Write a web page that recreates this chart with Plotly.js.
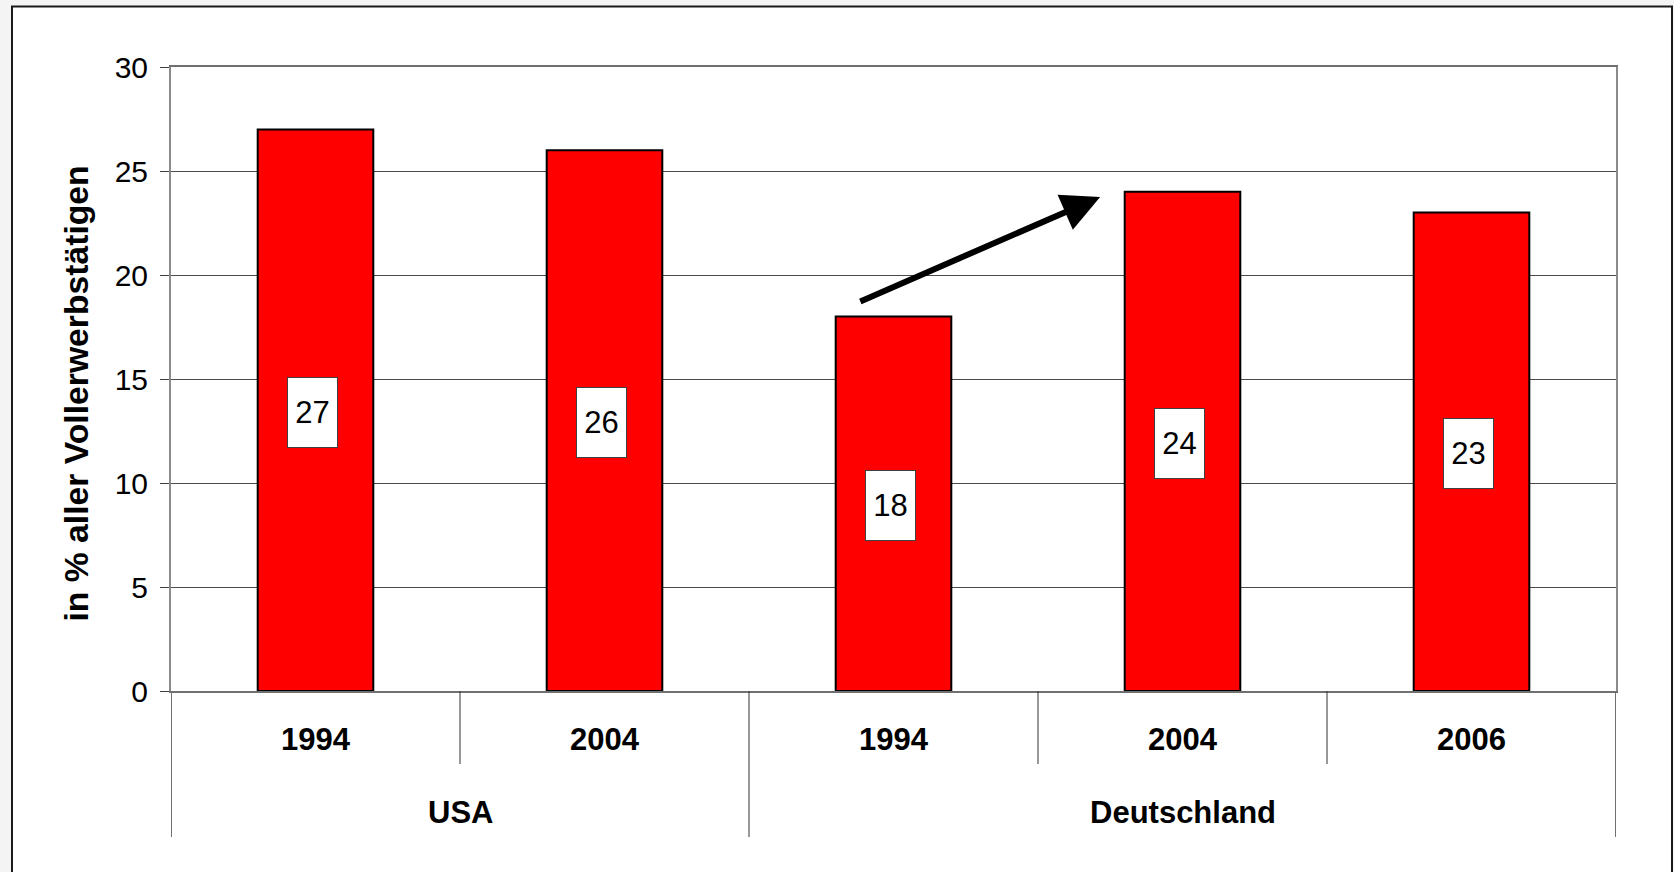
<!DOCTYPE html>
<html>
<head>
<meta charset="utf-8">
<script src="https://cdn.plot.ly/plotly-3.0.1.min.js"></script>
<style>
  html, body { margin: 0; padding: 0; background: #f4f4f4; overflow: hidden; }
  #chart { width: 1674px; height: 872px; }
</style>
</head>
<body>
<div id="chart"></div>
<script>
// ---- data ----
const groups = ['USA', 'USA', 'Deutschland', 'Deutschland', 'Deutschland'];
const years = ['1994', '2004', '1994', '2004', '2006'];
const values = [27, 26, 18, 24, 23];
const yTickValues = [0, 5, 10, 15, 20, 25, 30];
const yTitle = 'in % aller Vollerwerbstätigen';

// ---- layout geometry (pixels) ----
const W = 1674, H = 872;
const L = 171, R = 1616, T = 67, B = 691;
const pw = R - L, ph = B - T;
const px2x = p => (p - L) / pw;
const px2y = p => (B - p) / ph;

const FONT = 'Liberation Sans, Arial, Helvetica, sans-serif';
const idx = values.map((_, i) => i);

const shapes = [];
// outer frame
shapes.push({
  type: 'rect', xref: 'paper', yref: 'paper', layer: 'below',
  x0: px2x(12), x1: px2x(1672), y0: px2y(900), y1: px2y(6.5),
  fillcolor: '#ffffff', line: { color: '#1a1a1a', width: 2 }
});
// category dividers below the axis
for (let i = 0; i <= values.length; i++) {
  const edge = (i === 0 || i === values.length);
  const outer = edge || groups[i] !== groups[i - 1];
  shapes.push({
    type: 'line', xref: 'x', yref: 'paper',
    x0: i - 0.5, x1: i - 0.5, y0: 0, y1: outer ? px2y(837) : px2y(764),
    line: { color: edge ? '#707070' : '#333333', width: edge ? 2 : 1 }
  });
}

const annotations = [];
// value labels in white boxes
values.forEach((v, i) => {
  annotations.push({
    x: i, y: v / 2, xref: 'x', yref: 'y', text: String(v), showarrow: false,
    xshift: -3, yshift: -2,
    font: { family: FONT, size: 31, color: '#000' },
    bgcolor: '#ffffff', bordercolor: '#404040', borderwidth: 1, borderpad: 1,
    width: 47, height: 67, align: 'center', valign: 'middle'
  });
});
// group labels
const uniqueGroups = [...new Set(groups)];
uniqueGroups.forEach(g => {
  const ids = idx.filter(i => groups[i] === g);
  const cx = (Math.min(...ids) + Math.max(...ids)) / 2;
  annotations.push({
    x: cx, y: px2y(812), xref: 'x', yref: 'paper', text: g, showarrow: false,
    xanchor: 'center', yanchor: 'middle',
    font: { family: FONT, size: 31, color: '#000', weight: 'bold' }
  });
});
// y axis title
annotations.push({
  x: px2x(75), y: px2y(393.5), xref: 'paper', yref: 'paper', text: yTitle,
  showarrow: false, textangle: -90, xanchor: 'center', yanchor: 'middle',
  font: { family: FONT, size: 33.7, color: '#000', weight: 'bold' }
});
// arrow from Deutschland 1994 to Deutschland 2004
annotations.push({
  xref: 'x', yref: 'y', axref: 'x', ayref: 'y',
  ax: 2 - 0.12, ay: values[2] + 0.7,
  x: 3 - 0.285, y: values[3] - 0.25,
  text: '', showarrow: true, arrowhead: 2, arrowsize: 1.27, arrowwidth: 6, arrowcolor: '#000'
});

const trace = {
  type: 'bar', x: idx, y: values, width: 0.4,
  marker: { color: '#ff0000', line: { color: '#000000', width: 2 } },
  hoverinfo: 'skip'
};

const layout = {
  width: W, height: H,
  margin: { l: L, r: W - R, t: T, b: H - B, pad: 0 },
  paper_bgcolor: '#f4f4f4', plot_bgcolor: '#ffffff',
  showlegend: false,
  font: { family: FONT, color: '#000' },
  xaxis: {
    type: 'linear', range: [-0.5, values.length - 0.5], fixedrange: true,
    tickmode: 'array', tickvals: idx, ticktext: years,
    ticks: '', showgrid: false, zeroline: false,
    showline: true, linecolor: '#707070', linewidth: 2, mirror: true,
    tickfont: { family: FONT, size: 31, color: '#000', weight: 'bold' },
    ticklabelstandoff: 20
  },
  yaxis: {
    range: [0, 30], fixedrange: true,
    tickmode: 'array', tickvals: yTickValues,
    ticks: 'outside', ticklen: 9, tickwidth: 1, tickcolor: '#404040',
    showgrid: true, gridcolor: '#4a4a4a', gridwidth: 1, zeroline: false,
    showline: true, linecolor: '#8a8a8a', linewidth: 2, mirror: true,
    tickfont: { family: FONT, size: 30, color: '#000' },
    ticklabelstandoff: 6
  },
  shapes: shapes,
  annotations: annotations
};

Plotly.newPlot('chart', [trace], layout, { displayModeBar: false, staticPlot: true });
</script>
</body>
</html>
